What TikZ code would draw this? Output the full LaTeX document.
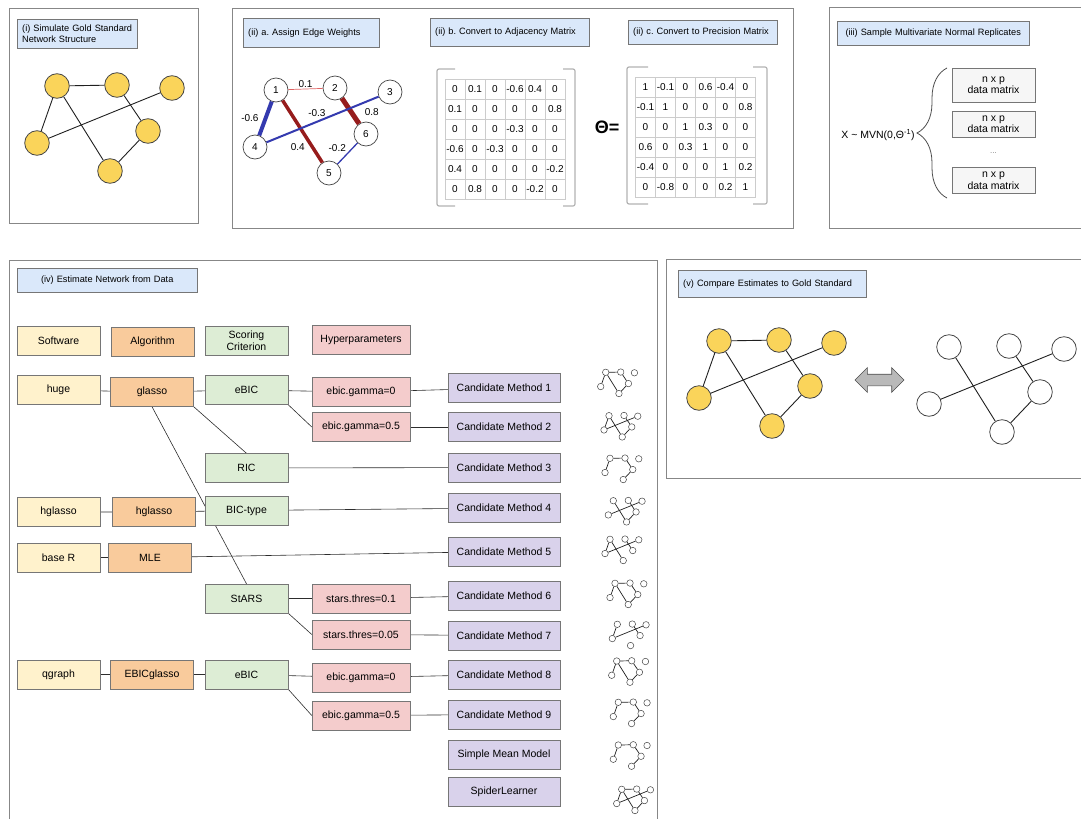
\documentclass[tikz,border=0pt]{standalone}
\usepackage{fontspec}
\setmainfont{Liberation Sans}
\usetikzlibrary{matrix,shapes.arrows,decorations.pathreplacing,backgrounds}

\definecolor{titleblue}{RGB}{218,232,250}
\definecolor{softcol}{RGB}{255,242,204}
\definecolor{algcol}{RGB}{249,203,156}
\definecolor{scorecol}{RGB}{221,237,213}
\definecolor{hypercol}{RGB}{244,204,204}
\definecolor{candcol}{RGB}{217,210,235}
\definecolor{goldcol}{RGB}{250,212,90}
\definecolor{boxline}{RGB}{118,118,118}
\definecolor{wred}{RGB}{150,28,28}
\definecolor{lred}{RGB}{222,100,100}
\definecolor{wblue}{RGB}{52,58,175}

\tikzset{
  panel/.style={draw={rgb,255:red,135;green,135;blue,135}, line width=1pt},
  titlebox/.style={draw=boxline, fill=titleblue, anchor=north west, align=left,
    inner xsep=5pt, inner ysep=0pt, font=\fontsize{9.2}{11}\selectfont},
  stepbox/.style={draw=boxline, minimum height=29, inner sep=0pt, align=center},
  softbox/.style={stepbox, fill=softcol, minimum width=83},
  algbox/.style={stepbox, fill=algcol, minimum width=83},
  scorebox/.style={stepbox, fill=scorecol, minimum width=83},
  hyperbox/.style={stepbox, fill=hypercol, minimum width=98},
  candbox/.style={stepbox, fill=candcol, minimum width=112},
  databox/.style={draw=boxline, fill=gray!7, minimum width=83, inner sep=0pt,
    align=center, font=\fontsize{10.5}{11.5}\selectfont},
  link/.style={draw=gray!35!black, line width=0.6pt},
  goldnode/.style={circle, draw=gray!55!black, fill=goldcol, line width=0.8pt, minimum size=24.6, inner sep=0pt},
  whitenode/.style={circle, draw=gray!55!black, fill=white, line width=0.8pt, minimum size=24.6, inner sep=0pt},
  netedge/.style={draw=gray!25!black, line width=0.9pt},
  mininode/.style={circle, draw=gray!55!black, fill=white, line width=0.5pt, minimum size=6.5, inner sep=0pt},
  miniedge/.style={draw=gray!25!black, line width=0.7pt},
  numnode/.style={circle, draw=gray!55!black, fill=white, line width=0.7pt, minimum size=24, inner sep=0pt,
    font=\fontsize{10}{12}\selectfont},
  wlabel/.style={inner sep=1pt, text=black, font=\fontsize{10}{12}\selectfont},
  matcell/.style={draw=gray!40, minimum width=20, minimum height=20, inner sep=0pt, font=\fontsize{10}{12}\selectfont},
  bracket/.style={draw=gray!60, line width=1.2pt, rounded corners=2pt}
}

% six-node sketch: prefix, shift, scale, node style, edge style, edges
\newcommand{\netsketch}[6]{%
  \begin{scope}[shift={#2},scale=#3]
    \foreach \nid/\px/\py in {1/0/0,2/60/-1,3/115/2,4/-20/57,5/53/85,6/91/45}
      \node[#4] (#1-\nid) at (\px,\py) {};
    \foreach \srcn/\dstn in {#6}
      \draw[#5] (#1-\srcn) -- (#1-\dstn);
  \end{scope}}

\begin{document}
\frenchspacing
\begin{tikzpicture}[x=1pt, y=-1pt, font=\fontsize{10.5}{12}\selectfont]
  \useasboundingbox (0,0) rectangle (1081,819);

  % (i) gold standard
  \draw[panel] (9,8) rectangle (198,223);
  \node[titlebox, text width=110, minimum height=29] (ttlI) at (17,19) {(i) Simulate Gold Standard\\Network Structure};
  \netsketch{gold}{(57,86)}{1}{goldnode}{netedge}{1/2,1/4,1/5,2/6,3/4,5/6}

  % (ii) weights and matrices
  \draw[panel] (232,8) rectangle (793,228);
  \node[titlebox, text width=126, minimum height=29] (ttlIIa) at (243,18) {(ii) a. Assign Edge Weights};
  \node[titlebox, text width=149, minimum height=28] (ttlIIb) at (430,18) {(ii) b. Convert to Adjacency Matrix};
  \node[titlebox, text width=139, minimum height=24] (ttlIIc) at (628,20) {(ii) c. Convert to Precision Matrix};

  \node[numnode] (w1) at (276,90) {1};
  \node[numnode] (w2) at (335,88) {2};
  \node[numnode] (w3) at (390,92) {3};
  \node[numnode] (w4) at (255,147) {4};
  \node[numnode] (w5) at (329,173) {5};
  \node[numnode] (w6) at (366,134) {6};
  \draw[lred, line width=0.7pt] (w1) -- node[wlabel, above] {0.1} (w2);
  \draw[wblue, line width=4pt] (w1) -- node[wlabel, left=4pt] {-0.6} (w4);
  \draw[wred, line width=3.5pt] (w1) -- node[wlabel, pos=0.75, left=5pt] {0.4} (w5);
  \draw[wred, line width=5pt] (w2) -- node[wlabel, pos=0.55, right=10pt] {0.8} (w6);
  \draw[wblue, line width=2pt] (w3) -- node[wlabel, pos=0.55, above=3pt] {-0.3} (w4);
  \draw[wblue, line width=1.3pt] (w5) -- node[wlabel, above left] {-0.2} (w6);

  \matrix (adjmat) [matrix of nodes, nodes={matcell}, column sep=-0.4pt, row sep=-0.4pt] at (505,139.5) {
    0 & 0.1 & 0 & -0.6 & 0.4 & 0 \\
    0.1 & 0 & 0 & 0 & 0 & 0.8 \\
    0 & 0 & 0 & -0.3 & 0 & 0 \\
    -0.6 & 0 & -0.3 & 0 & 0 & 0 \\
    0.4 & 0 & 0 & 0 & 0 & -0.2 \\
    0 & 0.8 & 0 & 0 & -0.2 & 0 \\
  };
  \draw[bracket] (455,69) -- (437,69) -- (437,206) -- (455,206);
  \draw[bracket] (563,69) -- (575,69) -- (575,206) -- (563,206);

  \node[font=\fontsize{18}{20}\selectfont\bfseries] (theta) at (607,127) {Θ=};

  \matrix (precmat) [matrix of nodes, nodes={matcell}, column sep=-0.4pt, row sep=-0.4pt] at (695.5,137) {
    1 & -0.1 & 0 & 0.6 & -0.4 & 0 \\
    -0.1 & 1 & 0 & 0 & 0 & 0.8 \\
    0 & 0 & 1 & 0.3 & 0 & 0 \\
    0.6 & 0 & 0.3 & 1 & 0 & 0 \\
    -0.4 & 0 & 0 & 0 & 1 & 0.2 \\
    0 & -0.8 & 0 & 0 & 0.2 & 1 \\
  };
  \draw[bracket] (648,67) -- (627,67) -- (627,204) -- (648,204);
  \draw[bracket] (753,67) -- (767,67) -- (767,204) -- (753,204);

  % (iii) sampling
  \draw[panel] (1081,7) -| (829,228) -- (1081,228);
  \node[titlebox, text width=182, minimum height=24, align=center] (ttlIII) at (837,21) {(iii) Sample Multivariate Normal Replicates};
  \node (mvn) at (878,135) {X \textasciitilde{} MVN(0,Θ\textsuperscript{-1})};
  \draw[gray!60!black, line width=0.8pt, decorate, decoration={brace, amplitude=30pt}] (947,198) -- (947,68);
  \node[databox, minimum height=34] (dm1) at (993.5,85) {n x p\\data matrix};
  \node[databox, minimum height=26] (dm2) at (993.5,124) {n x p\\data matrix};
  \node[text=gray, font=\fontsize{8}{9}\selectfont] (dmdots) at (993.5,153) {...};
  \node[databox, minimum height=26] (dm3) at (993.5,180.5) {n x p\\data matrix};

  % (iv) estimation
  \draw[panel] (9,819) |- (657,260) -- (657,819);
  \node[titlebox, text width=170, minimum height=24, align=center] (ttlIV) at (17,268) {(iv) Estimate Network from Data};

  \node[softbox] (hsoft) at (58.5,341) {Software};
  \node[algbox] (halg) at (152.5,342) {Algorithm};
  \node[scorebox] (hscore) at (246.5,341) {Scoring\\Criterion};
  \node[hyperbox] (hhyper) at (361,339.5) {Hyperparameters};

  \node[softbox] (huge) at (58.5,390) {huge};
  \node[algbox] (glasso) at (152,392) {glasso};
  \node[scorebox] (ebicA) at (246.5,390) {eBIC};
  \node[hyperbox] (gamA) at (361,392) {ebic.gamma=0};
  \node[hyperbox] (gamB) at (361,427) {ebic.gamma=0.5};
  \node[scorebox] (ric) at (246.5,468) {RIC};
  \node[softbox] (hgsoft) at (58.5,512) {hglasso};
  \node[algbox] (hgalg) at (154,512) {hglasso};
  \node[scorebox] (bictype) at (246.5,510.5) {BIC-type};
  \node[softbox] (baser) at (58.5,557.5) {base R};
  \node[algbox] (mle) at (150,557.5) {MLE};
  \node[scorebox] (stars) at (246.5,598.5) {StARS};
  \node[hyperbox] (thrA) at (361,598.5) {stars.thres=0.1};
  \node[hyperbox] (thrB) at (361,634.5) {stars.thres=0.05};
  \node[softbox] (qgraph) at (58.5,674.5) {qgraph};
  \node[algbox] (ebicglasso) at (152,674.5) {EBICglasso};
  \node[scorebox] (ebicB) at (246.5,674.5) {eBIC};
  \node[hyperbox] (gamC) at (361,677.5) {ebic.gamma=0};
  \node[hyperbox] (gamD) at (361,715.5) {ebic.gamma=0.5};

  \foreach \i/\y in {1/388,2/427,3/467.5,4/508,5/551.5,6/595.5,7/635.5,8/674.5,9/714.5}
    \node[candbox] (cand\i) at (504,\y) {Candidate Method \i};
  \node[candbox] (meanmod) at (504,754.5) {Simple Mean Model};
  \node[candbox] (spider) at (504,791.5) {SpiderLearner};

  \begin{scope}[on background layer]
    \draw[link] (huge) -- (glasso) -- (ebicA) -- (gamA) -- (cand1);
    \draw[link] (ebicA.south east) -- (gamB.west);
    \draw[link] (gamB) -- (cand2);
    \draw[link] (glasso.south east) -- (ric.north);
    \draw[link] (glasso.south) -- (stars.north);
    \draw[link] (ric) -- (cand3);
    \draw[link] (hgsoft) -- (hgalg) -- (bictype) -- (cand4);
    \draw[link] (baser) -- (mle) -- (cand5);
    \draw[link] (stars) -- (thrA) -- (cand6);
    \draw[link] (stars.south east) -- (thrB.west);
    \draw[link] (thrB) -- (cand7);
    \draw[link] (qgraph) -- (ebicglasso) -- (ebicB) -- (gamC) -- (cand8);
    \draw[link] (ebicB.south east) -- (gamD.west);
    \draw[link] (gamD) -- (cand9);
  \end{scope}

  % estimated networks
  \netsketch{mini1}{(605.7,372.3)}{0.25}{mininode}{miniedge}{1/2,1/4,1/5,2/6,5/6}
  \netsketch{mini2}{(609,415.7)}{0.25}{mininode}{miniedge}{1/4,1/5,3/4,2/6,5/6}
  \netsketch{mini3}{(610,458.3)}{0.25}{mininode}{miniedge}{1/2,1/4,2/6,5/6}
  \netsketch{mini4}{(613.3,500.7)}{0.25}{mininode}{miniedge}{1/5,2/6,5/6,3/4}
  \netsketch{mini5}{(610,539.3)}{0.25}{mininode}{miniedge}{1/4,1/5,3/4,2/6}
  \netsketch{mini6}{(615,583.3)}{0.25}{mininode}{miniedge}{1/2,1/4,1/5,2/6,5/6}
  \netsketch{mini7}{(617.3,624.3)}{0.25}{mininode}{miniedge}{1/4,3/4,2/6}
  \netsketch{mini8}{(616.7,661)}{0.25}{mininode}{miniedge}{1/2,1/4,1/5,2/6,5/6}
  \netsketch{mini9}{(618.3,702.3)}{0.25}{mininode}{miniedge}{1/2,1/4,2/6,5/6}
  \netsketch{minimean}{(618.3,745)}{0.25}{mininode}{miniedge}{1/2,1/4,2/6,5/6}
  \netsketch{minispider}{(621.7,789.3)}{0.25}{mininode}{miniedge}{1/2,1/4,1/5,3/4,2/6,5/6}

  % (v) comparison
  \draw[panel] (1081,259) -| (666,478) -- (1081,478);
  \node[titlebox, text width=178, minimum height=27] (ttlV) at (678,270) {(v) Compare Estimates to Gold Standard};
  \netsketch{truth}{(719,341)}{1}{goldnode}{netedge}{1/2,1/4,1/5,2/6,3/4,5/6}
  \node[double arrow, draw=gray!60!black, fill=gray!55, line width=0.6pt, minimum width=24,
    minimum height=49, inner sep=5.5pt, double arrow head extend=6.5pt] (cmp) at (879.5,380) {};
  \netsketch{est}{(949,347)}{1}{whitenode}{netedge}{1/5,2/6,5/6,3/4}
\end{tikzpicture}
\end{document}
